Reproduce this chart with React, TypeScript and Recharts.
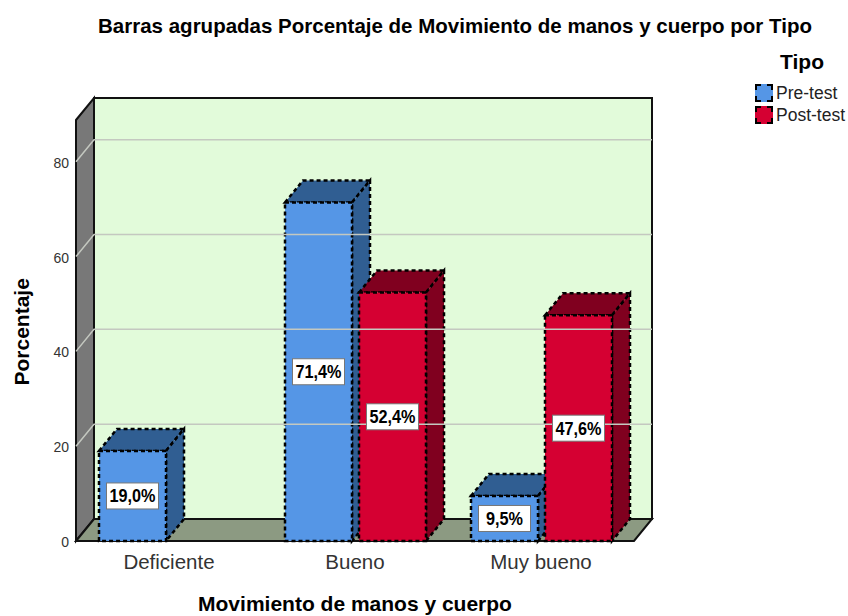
import { BarChart, Bar, XAxis, YAxis, ReferenceLine, Legend, LabelList } from 'recharts';

const categories = ['Deficiente', 'Bueno', 'Muy bueno'];
const preTest = [19.0, 71.4, 9.5];
const postTest = [null, 52.4, 47.6];
const yTicks = [0, 20, 40, 60, 80];
const gridTicks = [20, 40, 60, 80];

const data = categories.map((name, i) => ({ name, pre: preTest[i], post: postTest[i] }));

const FONT = '"Liberation Sans", Arial, sans-serif';
const WIDTH = 848;
const HEIGHT = 616;
const LEFT = 76;
const RIGHT = 634;
const TOP = 120;
const BASE = 541;
const DX = 18;
const DY = 22;
const LEGEND_W = 93;

const SHADES: Record<string, string> = { '#5596e6': '#305e92', '#d50032': '#80001f' };

// 3D box: front face plus top and side faces
const Box3D = (props: any) => {
    const { x, y, width, height, fill } = props;
    if (!height || height <= 0) return null;
    const dark = SHADES[fill];
    const edge = { stroke: '#000', strokeWidth: 2.5, strokeDasharray: '4 3' };
    return (
        <g>
            <path d={`M${x},${y} L${x + DX},${y - DY} L${x + width + DX},${y - DY} L${x + width},${y} Z`} fill={dark} {...edge} />
            <path d={`M${x + width},${y} L${x + width + DX},${y - DY} L${x + width + DX},${y + height - DY} L${x + width},${y + height} Z`} fill={dark} {...edge} />
            <rect x={x} y={y} width={width} height={height} fill={fill} {...edge} />
        </g>
    );
};

const ValueBox = (props: any) => {
    const { x, y, width, height, value } = props;
    if (value == null) return null;
    const cx = x + width / 2;
    const cy = y + height / 2;
    const text = `${value.toFixed(1).replace('.', ',')}%`;
    return (
        <g>
            <rect x={cx - 26} y={cy - 13} width={52} height={26} fill="#fff" stroke="#777" strokeWidth={1} />
            <text x={cx} y={cy + 6.5} textAnchor="middle" fontFamily={FONT} fontWeight="bold" fontSize={17.5} textLength={text.length === 4 ? 37 : 46} lengthAdjust="spacingAndGlyphs" fill="#000">
                {text}
            </text>
        </g>
    );
};

const ElbowGrid = (props: any) => {
    const { x1, y1, x2 } = props;
    return <path d={`M${x1},${y1} L${x1 + DX},${y1 - DY} L${x2 + DX},${y1 - DY}`} fill="none" stroke="#c4c8c0" strokeWidth={1.5} />;
};

const LegendBox = ({ payload }: any) => (
    <div style={{ fontFamily: FONT, color: '#222' }}>
        <div style={{ fontWeight: 'bold', fontSize: 21, lineHeight: '24px', textAlign: 'center', width: 46, marginLeft: 24, marginBottom: 8, color: '#000' }}>Tipo</div>
        {(payload || []).map((p: any) => (
            <div key={p.value} style={{ display: 'flex', alignItems: 'center', height: 22, fontSize: 17.5, whiteSpace: 'nowrap' }}>
                <span style={{ width: 14, height: 14, background: p.color, border: '2px dashed #000', marginRight: 3, display: 'inline-block', flexShrink: 0 }} />
                {p.value}
            </div>
        ))}
    </div>
);

export default function App() {
    return (
        <div style={{ position: 'absolute', left: 0, top: 0, width: WIDTH, height: HEIGHT, background: '#fff' }}>
            <BarChart
                width={WIDTH}
                height={HEIGHT}
                data={data}
                margin={{ top: TOP, right: WIDTH - RIGHT - LEGEND_W, left: LEFT - 60, bottom: HEIGHT - BASE - 40 }}
                barCategoryGap={23}
                barGap={7}
                barSize={67}
            >
                <text x={455} y={33} textAnchor="middle" fontFamily={FONT} fontWeight="bold" fontSize={20.5} fill="#000">
                    Barras agrupadas Porcentaje de Movimiento de manos y cuerpo por Tipo
                </text>
                {/* walls and floor */}
                <path d={`M${LEFT + DX},${TOP - DY} H${RIGHT + DX} V${BASE - DY} H${LEFT + DX} Z`} fill="#e2fbda" stroke="#111" strokeWidth={2} />
                <path d={`M${LEFT},${TOP} L${LEFT + DX},${TOP - DY} V${BASE - DY} L${LEFT},${BASE} Z`} fill="#787878" stroke="#111" strokeWidth={2} />
                <path d={`M${LEFT},${BASE} L${LEFT + DX},${BASE - DY} H${RIGHT + DX} L${RIGHT},${BASE} Z`} fill="#8c9a82" stroke="#111" strokeWidth={2} />
                {gridTicks.map((t) => (
                    <ReferenceLine key={t} y={t} shape={ElbowGrid} ifOverflow="visible" />
                ))}
                <XAxis
                    dataKey="name"
                    axisLine={false}
                    tickLine={false}
                    height={40}
                    tick={{ fontSize: 20.5, fill: '#333', fontFamily: FONT, dy: 5 }}
                    tickMargin={2}
                    label={{ value: 'Movimiento de manos y cuerpo', position: 'bottom', offset: 15, fontFamily: FONT, fontWeight: 'bold', fontSize: 21, fill: '#000' }}
                />
                <YAxis
                    domain={[0, 88.8]}
                    ticks={yTicks}
                    width={60}
                    axisLine={false}
                    tickLine={false}
                    tick={{ fontSize: 14, fill: '#333', fontFamily: FONT, dy: 1 }}
                    tickMargin={1}
                    label={{ value: 'Porcentaje', angle: -90, position: 'insideLeft', offset: 6, dy: 55, fontFamily: FONT, fontWeight: 'bold', fontSize: 21, fill: '#000' }}
                />
                <Legend
                    layout="vertical"
                    verticalAlign="top"
                    align="right"
                    itemSorter={null}
                    content={LegendBox}
                    wrapperStyle={{ left: 755, top: 50, width: LEGEND_W }}
                />
                <Bar dataKey="pre" name="Pre-test" fill="#5596e6" shape={Box3D} isAnimationActive={false}>
                    <LabelList dataKey="pre" content={ValueBox} />
                </Bar>
                <Bar dataKey="post" name="Post-test" fill="#d50032" shape={Box3D} isAnimationActive={false}>
                    <LabelList dataKey="post" content={ValueBox} />
                </Bar>
            </BarChart>
        </div>
    );
}
